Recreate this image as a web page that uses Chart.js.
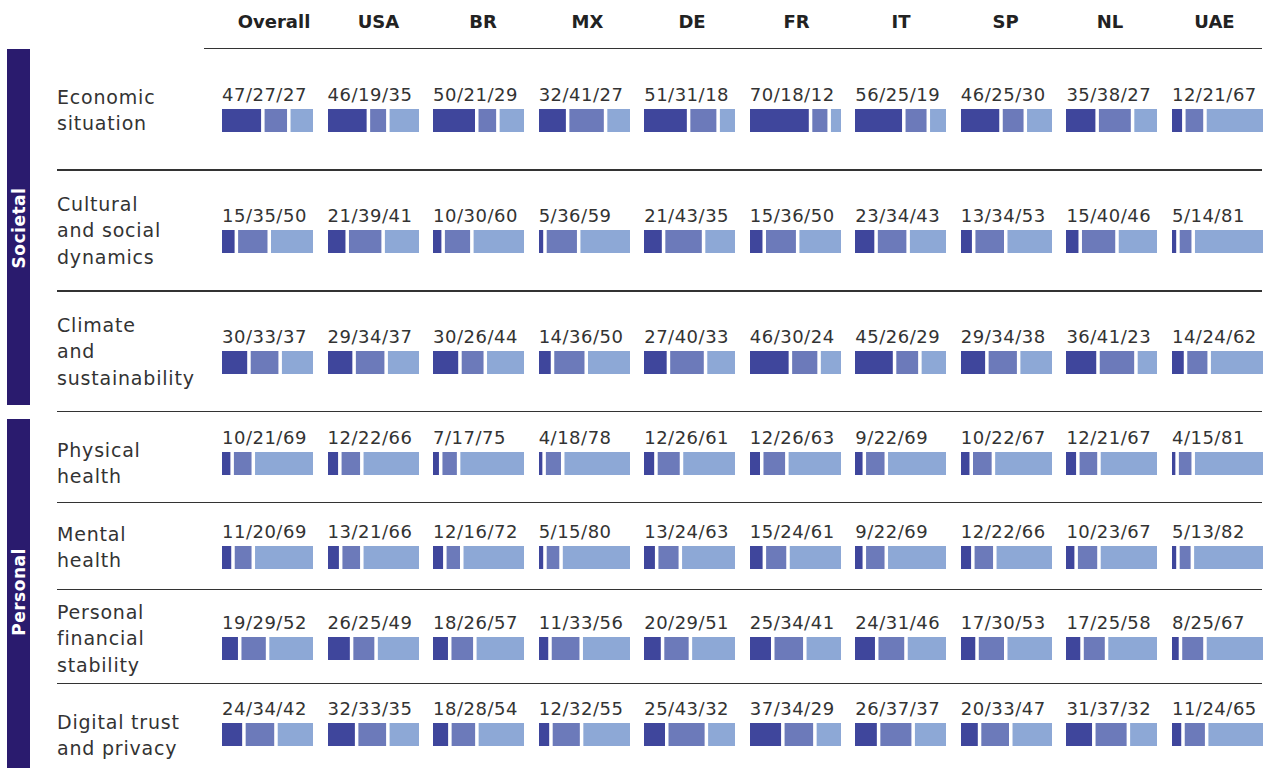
<!DOCTYPE html>
<html>
<head>
<meta charset="utf-8">
<script src="https://cdn.jsdelivr.net/npm/chart.js@4.4.1/dist/chart.umd.min.js"></script>
<style>
  body { margin: 0; background: #fff; }
  #page { position: relative; width: 1270px; height: 768px; overflow: hidden; font-family: 'DejaVu Sans', sans-serif; color: #333; }
  .abs { position: absolute; }
  .head { font-weight: bold; font-size: 18px; color: #222; transform: translateX(-50%); white-space: nowrap; line-height: 20px; }
  .rowlabel { font-size: 19px; line-height: 26.5px; letter-spacing: 0.8px; white-space: nowrap; }
  .num { font-size: 18px; line-height: 20px; letter-spacing: 0.5px; white-space: nowrap; }
  .rule { height: 1.5px; background: #333; }
  .band { background: #2a1b6e; width: 23px; }
  .bandtext { color: #fff; font-weight: bold; font-size: 17px; transform: translate(-50%, -50%) rotate(-90deg); white-space: nowrap; letter-spacing: 0.5px; }
</style>
</head>
<body>
<div id="page"></div>
<script>
var countries = ['Overall', 'USA', 'BR', 'MX', 'DE', 'FR', 'IT', 'SP', 'NL', 'UAE'];
var topics = ['Economic\nsituation', 'Cultural\nand social\ndynamics', 'Climate\nand\nsustainability',
  'Physical\nhealth', 'Mental\nhealth', 'Personal\nfinancial\nstability', 'Digital trust\nand privacy'];

// each entry: [dark, mid, light] share per country
var economicSituation = [[47,27,27],[46,19,35],[50,21,29],[32,41,27],[51,31,18],[70,18,12],[56,25,19],[46,25,30],[35,38,27],[12,21,67]];
var culturalSocial = [[15,35,50],[21,39,41],[10,30,60],[5,36,59],[21,43,35],[15,36,50],[23,34,43],[13,34,53],[15,40,46],[5,14,81]];
var climate = [[30,33,37],[29,34,37],[30,26,44],[14,36,50],[27,40,33],[46,30,24],[45,26,29],[29,34,38],[36,41,23],[14,24,62]];
var physicalHealth = [[10,21,69],[12,22,66],[7,17,75],[4,18,78],[12,26,61],[12,26,63],[9,22,69],[10,22,67],[12,21,67],[4,15,81]];
var mentalHealth = [[11,20,69],[13,21,66],[12,16,72],[5,15,80],[13,24,63],[15,24,61],[9,22,69],[12,22,66],[10,23,67],[5,13,82]];
var financialStability = [[19,29,52],[26,25,49],[18,26,57],[11,33,56],[20,29,51],[25,34,41],[24,31,46],[17,30,53],[17,25,58],[8,25,67]];
var digitalTrust = [[24,34,42],[32,33,35],[18,28,54],[12,32,55],[25,43,32],[37,34,29],[26,37,37],[20,33,47],[31,37,32],[11,24,65]];

var rows = [economicSituation, culturalSocial, climate, physicalHealth, mentalHealth, financialStability, digitalTrust];
var colors = ['#3f469c', '#6c7aba', '#8da8d6'];

// layout
var colX0 = 222, colStep = 105.55, barW = 91, barH = 23, GAP = 3.5;
var headX0 = 274, headStep = 104.5;
var numCenters = [95, 216, 336.5, 437.5, 532, 623, 709];
var labelFirst = [97, 204, 325, 450, 534, 612, 722];
var rules = [169, 290, 410.5, 501.5, 588.5, 682.5];

var page = document.getElementById('page');

function add(cls, css, text) {
  var d = document.createElement('div');
  d.className = 'abs ' + cls;
  for (var k in css) d.style[k] = css[k];
  if (text !== undefined) d.textContent = text;
  page.appendChild(d);
  return d;
}

add('band', { left: '7px', top: '49px', height: '356px' });
add('band', { left: '7px', top: '419px', height: '349px' });
add('bandtext', { left: '18.5px', top: '228px' }, 'Societal');
add('bandtext', { left: '18.5px', top: '592px' }, 'Personal');

add('rule', { left: '204px', top: '47.5px', width: '1058px' });
rules.forEach(function(y) {
  add('rule', { left: '57px', top: y + 'px', width: '1205px' });
});

countries.forEach(function(c, i) {
  add('head', { left: (headX0 + i * headStep) + 'px', top: '12px' }, c);
});

topics.forEach(function(t, r) {
  var d = add('rowlabel', { left: '57px', top: (labelFirst[r] - 13.25) + 'px' });
  d.innerHTML = t.split('\n').join('<br>');
});

function drawCell(vals, left, top) {
  var holder = add('', { left: left + 'px', top: top + 'px', width: barW + 'px', height: barH + 'px' });
  var cv = document.createElement('canvas');
  cv.width = barW; cv.height = barH;
  holder.appendChild(cv);
  var total = vals[0] + vals[1] + vals[2];
  var gapUnits = GAP * total / (barW - 2 * GAP);
  var sets = [];
  vals.forEach(function(v, k) {
    if (k > 0) sets.push({ data: [gapUnits], backgroundColor: 'rgba(0,0,0,0)' });
    sets.push({ data: [v], backgroundColor: colors[k] });
  });
  new Chart(cv, {
    type: 'bar',
    data: { labels: [''], datasets: sets },
    options: {
      indexAxis: 'y',
      responsive: false,
      animation: false,
      events: [],
      layout: { padding: 0 },
      datasets: { bar: { barPercentage: 1, categoryPercentage: 1, borderWidth: 0, inflateAmount: 0 } },
      scales: {
        x: { stacked: true, display: false, min: 0, max: total + 2 * gapUnits },
        y: { stacked: true, display: false }
      },
      plugins: { legend: { display: false }, tooltip: { enabled: false } }
    }
  });
}

rows.forEach(function(row, r) {
  row.forEach(function(vals, i) {
    var x = colX0 + i * colStep;
    add('num', { left: x + 'px', top: (numCenters[r] - 10) + 'px' }, vals.join('/'));
    drawCell(vals, Math.round(x), Math.round(numCenters[r] + 14));
  });
});
</script>
</body>
</html>
